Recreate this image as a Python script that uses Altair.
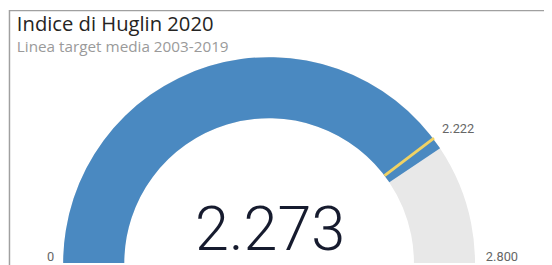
import math
import altair as alt
import pandas as pd

# ---- data ----
MIN_VALUE = [0]
MAX_VALUE = [2800]
VALUE = [2273]
TARGET = [2222]
TITLE = "Indice di Huglin 2020"
SUBTITLE = "Linea target media 2003-2019"


def it_fmt(n):
    return f"{n:,}".replace(",", ".")


df = pd.DataFrame({
    "min": MIN_VALUE,
    "max": MAX_VALUE,
    "value": VALUE,
    "target": TARGET,
    "min_label": [it_fmt(v) for v in MIN_VALUE],
    "max_label": [it_fmt(v) for v in MAX_VALUE],
    "value_label": [it_fmt(v) for v in VALUE],
    "target_label": [it_fmt(v) for v in TARGET],
    "title": [TITLE],
    "subtitle": [SUBTITLE],
})

# ---- layout ----
W, H = 544, 257
CX, CY = 265, 257
R_OUT, R_IN = 209, 147
BLUE = "#4a89c1"
GREY = "#e8e8e8"
YELLOW = "#f0d264"
LABEL = "#666666"

theta_scale = alt.Scale(domain=[MIN_VALUE[0], MAX_VALUE[0]], range=[-math.pi / 2, math.pi / 2])


def th(field):
    return alt.Theta(f"{field}:Q", scale=theta_scale, stack=False)


base = alt.Chart(df)
center = dict(x=alt.value(CX), y=alt.value(CY))

bg = base.mark_arc(innerRadius=R_IN, outerRadius=R_OUT, color=GREY).encode(
    theta=th("min"), theta2=alt.Theta2("max"), **center)
val = base.mark_arc(innerRadius=R_IN, outerRadius=R_OUT, color=BLUE).encode(
    theta=th("min"), theta2=alt.Theta2("value"), **center)
tgt = base.mark_arc(innerRadius=R_IN, outerRadius=R_OUT + 1, color=YELLOW,
                    stroke=YELLOW, strokeWidth=3).encode(
    theta=th("target"), theta2=alt.Theta2("target"), **center)

lab_font = dict(font="Roboto", fontSize=13, color=LABEL)
min_lab = base.mark_text(radius=218, align="right", baseline="middle", dy=-6, **lab_font).encode(
    theta=th("min"), text="min_label:N", **center)
max_lab = base.mark_text(radius=220, align="left", baseline="middle", dy=-6, **lab_font).encode(
    theta=th("max"), text="max_label:N", **center)
tgt_lab = base.mark_text(radius=214, align="left", baseline="middle", dx=5, dy=-7, **lab_font).encode(
    theta=th("target"), text="target_label:N", **center)

big = base.mark_text(font="Roboto", fontWeight=300, fontSize=62, color="#161b2e",
                     align="center", baseline="alphabetic").encode(
    x=alt.value(266), y=alt.value(244), text="value_label:N")

title = base.mark_text(font="Open Sans", fontSize=20.5, color="#252423",
                       align="left", baseline="alphabetic").encode(
    x=alt.value(9), y=alt.value(21), text="title:N")
subtitle = base.mark_text(font="Open Sans", fontSize=15.5, color="#9a9a9a",
                          align="left", baseline="alphabetic").encode(
    x=alt.value(9), y=alt.value(42.5), text="subtitle:N")

border_l = base.mark_rule(color="#a0a0a0", strokeWidth=1.5).encode(
    x=alt.value(1.5), y=alt.value(0), y2=alt.value(H + 10))
border_t = base.mark_rule(color="#a0a0a0", strokeWidth=1.5).encode(
    x=alt.value(1), x2=alt.value(W), y=alt.value(0.75))

chart = alt.layer(
    bg, val, tgt, min_lab, max_lab, tgt_lab, big, title, subtitle, border_l, border_t
).properties(
    width=W, height=H, autosize="none", padding=0
).configure_view(strokeWidth=0)

chart.save("out.html", embed_options={"renderer": "svg", "actions": False})
